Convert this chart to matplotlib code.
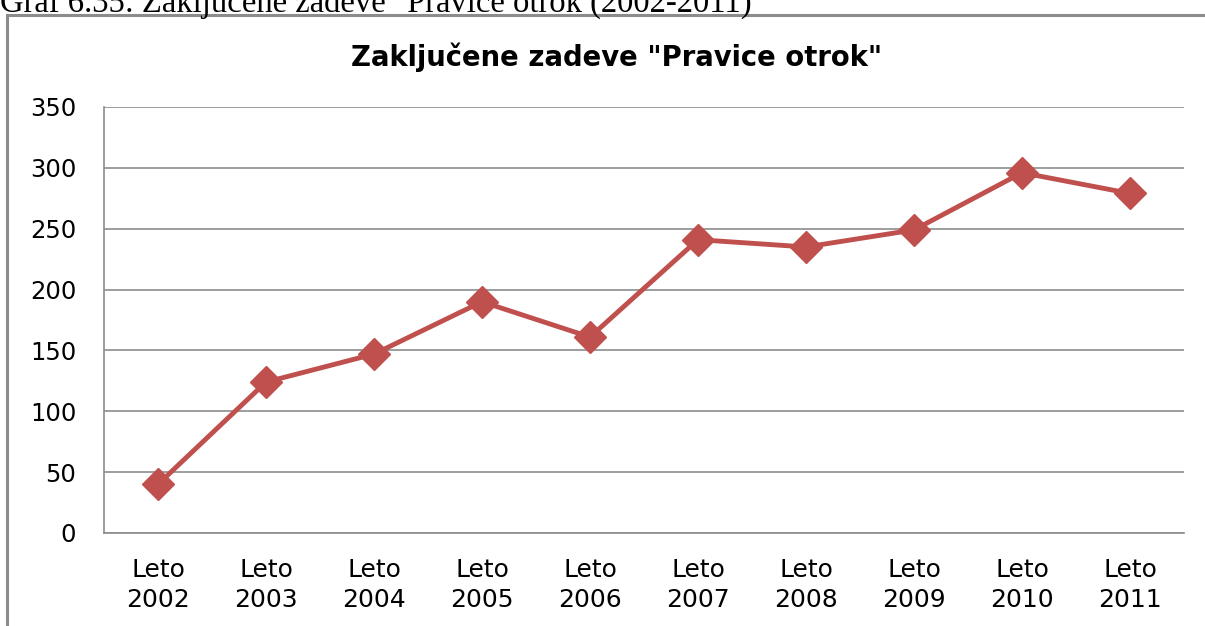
import matplotlib
matplotlib.use("Agg")
import matplotlib.pyplot as plt
from matplotlib.patches import Rectangle

# data
years = ['2002', '2003', '2004', '2005', '2006', '2007', '2008', '2009', '2010', '2011']
cases = [40, 124, 147, 190, 161, 241, 235, 249, 296, 279]
labels = ['Leto\n' + y for y in years]
yticks = [0, 50, 100, 150, 200, 250, 300, 350]

W, H = 1205, 626
fig = plt.figure(figsize=(W / 100, H / 100), dpi=100)
fig.patch.set_facecolor('white')

# caption from the document (cut at top)
fig.text(0.0, 1 - 12 / H, 'Graf 6.35: Zaključene zadeve "Pravice otrok (2002-2011)',
         family='Liberation Serif', fontsize=23.5, va='baseline', ha='left')

# outer chart frame, runs off the right and bottom edge
frame = Rectangle((7 / W, -0.2), 1.2, 1.2 - 15 / H, transform=fig.transFigure,
                  fill=False, edgecolor='#8c8c8c', linewidth=2.2)
fig.patches.append(frame)

ax = fig.add_axes([104 / W, 1 - 533 / H, (1184 - 104) / W, (533 - 107) / H])
x = list(range(len(years)))
ax.plot(x, cases, color='#c0504d', linewidth=3.5, marker='D', markersize=16,
        markeredgecolor='#c0504d', zorder=3)

ax.set_xlim(-0.5, len(years) - 0.5)
ax.set_ylim(0, 350)
ax.set_yticks(yticks)
ax.set_xticks(x)
ax.set_xticklabels(labels, fontsize=18, linespacing=1.3)
ax.tick_params(axis='y', labelsize=17.5, length=0, pad=20)
ax.tick_params(axis='x', length=0, pad=18)
ax.grid(axis='y', color='#8c8c8c', linewidth=1.2)
ax.set_axisbelow(True)
for s in ['top', 'right']:
    ax.spines[s].set_visible(False)
for s in ['left', 'bottom']:
    ax.spines[s].set_color('#8c8c8c')
    ax.spines[s].set_linewidth(1.2)

fig.text(617 / W, 1 - 57 / H, 'Zaključene zadeve "Pravice otrok"', fontsize=19.8,
         fontweight='bold', ha='center', va='center')

fig.savefig('out.png', dpi=100)
